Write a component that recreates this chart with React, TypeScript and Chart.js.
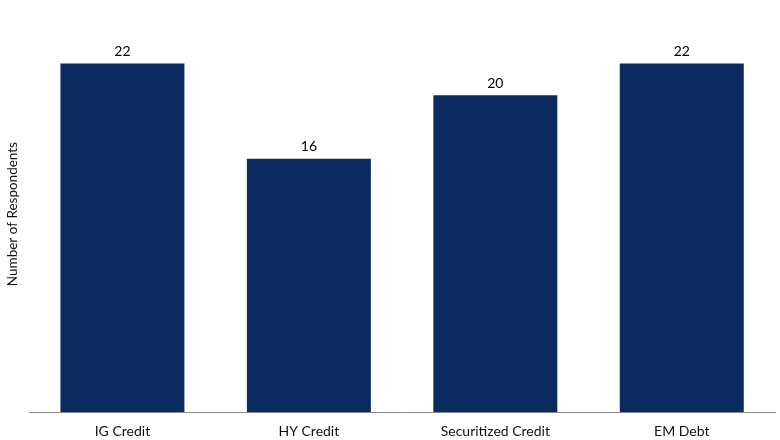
import React, { useEffect, useRef } from "react";
import { Chart, registerables, Plugin } from "chart.js";

Chart.register(...registerables);

const categories = ["IG Credit", "HY Credit", "Securitized Credit", "EM Debt"];
const respondents = [22, 16, 20, 22];

const BAR_COLOR = "#0B2B5E";
const FONT = "Lato, 'Noto Sans', sans-serif";

// draws the value above each bar
const valueLabels: Plugin<"bar"> = {
  id: "valueLabels",
  afterDatasetsDraw(chart) {
    const ctx = chart.ctx;
    const meta = chart.getDatasetMeta(0);
    ctx.save();
    ctx.font = `14px ${FONT}`;
    ctx.fillStyle = "#000";
    ctx.textAlign = "center";
    ctx.textBaseline = "bottom";
    meta.data.forEach((bar, i) => {
      ctx.fillText(String(respondents[i]), bar.x, bar.y - 5);
    });
    ctx.restore();
  },
};

const App: React.FC = () => {
  const canvasRef = useRef<HTMLCanvasElement | null>(null);
  const chartRef = useRef<Chart | null>(null);

  useEffect(() => {
    document.body.style.margin = "0";
    if (!canvasRef.current) return;
    const ctx = canvasRef.current.getContext("2d");
    if (!ctx) return;

    chartRef.current = new Chart(ctx, {
      type: "bar",
      data: {
        labels: categories,
        datasets: [
          {
            data: respondents,
            backgroundColor: BAR_COLOR,
            borderWidth: 0,
            categoryPercentage: 0.665,
            barPercentage: 1,
          },
        ],
      },
      options: {
        responsive: false,
        animation: false,
        layout: { padding: { top: 16, right: 5, bottom: -11, left: 5 } },
        plugins: {
          legend: { display: false },
          tooltip: { enabled: false },
        },
        scales: {
          x: {
            grid: { display: false, drawTicks: false },
            border: { display: true, color: "#8C8C8C", width: 1 },
            ticks: {
              color: "#111",
              padding: 11,
              font: { family: FONT, size: 14 },
            },
          },
          y: {
            min: 0,
            max: 25,
            grid: { display: false, drawTicks: false },
            border: { display: false },
            ticks: { display: false },
            title: {
              display: true,
              text: "Number of Respondents",
              color: "#111",
              font: { family: FONT, size: 13.5 },
              padding: { top: 0, bottom: 8 },
            },
          },
        },
      },
      plugins: [valueLabels],
    });

    return () => {
      chartRef.current?.destroy();
      chartRef.current = null;
    };
  }, []);

  return (
    <div style={{ width: 780, height: 440 }}>
      <canvas ref={canvasRef} width={780} height={440} />
    </div>
  );
};

export default App;
